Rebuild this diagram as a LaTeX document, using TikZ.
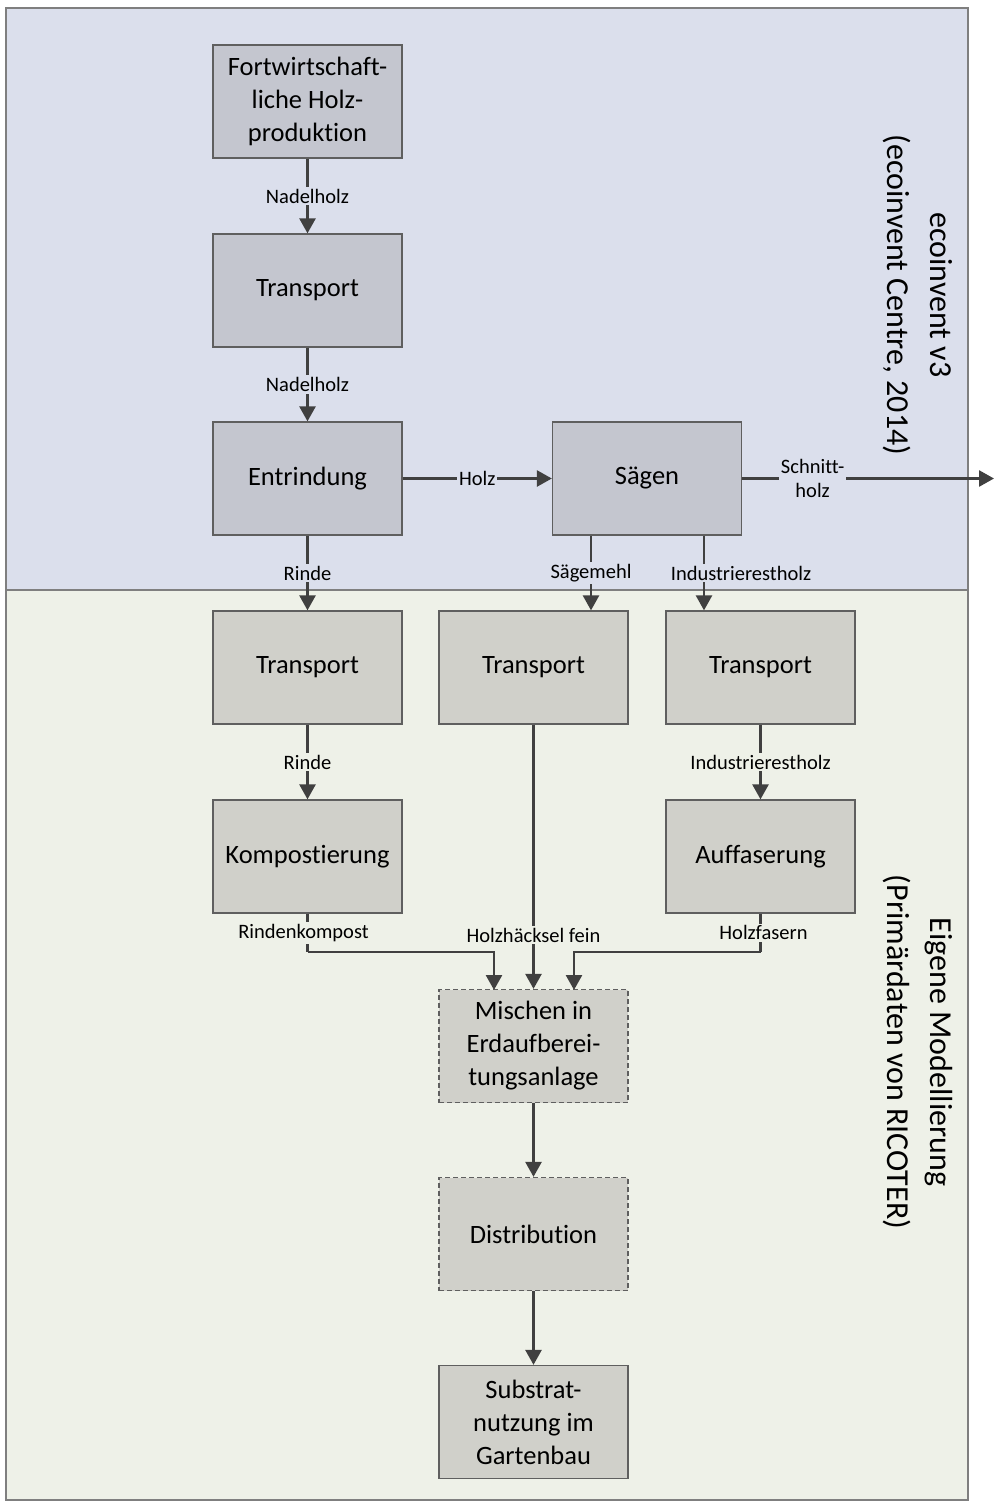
\documentclass[tikz,border=0pt]{standalone}
\usepackage{fontspec}
\setmainfont{Carlito}[Ligatures={NoCommon}]
\usetikzlibrary{arrows.meta}
\definecolor{topbg}{RGB}{219,223,236}
\definecolor{botbg}{RGB}{238,241,232}
\definecolor{topbox}{RGB}{196,198,207}
\definecolor{botbox}{RGB}{208,208,202}
\definecolor{edge}{RGB}{95,95,95}
\definecolor{arrowc}{RGB}{64,64,64}
\tikzset{
  box/.style={draw=edge, line width=1.3pt, minimum width=189pt, minimum height=113pt,
    align=center, inner sep=2pt, font=\fontsize{26.5}{33}\selectfont},
  topb/.style={box, fill=topbox},
  botb/.style={box, fill=botbox},
  dbox/.style={botb, dash pattern=on 5pt off 3pt},
  arr/.style={draw=arrowc, line width=2.6pt, -{Triangle[length=15pt,width=16pt]}},
  plain/.style={draw=arrowc, line width=2.6pt},
  lab/.style={font=\fontsize{20.5}{24}\selectfont, inner sep=2pt, align=center},
  labt/.style={lab, fill=topbg},
  labb/.style={lab, fill=botbg},
  region/.style={draw=edge!80, line width=1.3pt},
  side/.style={rotate=-90, align=center, font=\fontsize{32}{43}\selectfont}
}
\begin{document}
\begin{tikzpicture}[x=1pt,y=-1pt]
\useasboundingbox (0,0) rectangle (995,1504);
\fill[white] (0,0) rectangle (995,1504);
% regions
\path[region, fill=topbg] (6,8) rectangle (968,590);
\path[region, fill=botbg] (6,590) rectangle (968,1500);
\node[side] (ttop) at (918,295) {ecoinvent v3\\(ecoinvent Centre, 2014)};
\node[side] (tbot) at (918,1052) {Eigene Modellierung\\(Primärdaten von RICOTER)};
% boxes
\node[topb] (fort) at (307.5,101.5) {Fortwirtschaft-\\liche Holz-\\produktion};
\node[topb] (tr1) at (307.5,290.5) {Transport};
\node[topb] (entr) at (307.5,478.5) {Entrindung};
\node[topb] (saeg) at (647,478.5) {Sägen};
\node[botb] (tra) at (307.5,667.5) {Transport};
\node[botb] (trb) at (533.5,667.5) {Transport};
\node[botb] (trc) at (760.5,667.5) {Transport};
\node[botb] (komp) at (307.5,856.5) {Kompostierung};
\node[botb] (auff) at (760.5,856.5) {Auffaserung};
\node[dbox] (misch) at (533.5,1046) {Mischen in\\Erdaufberei-\\tungsanlage};
\node[dbox] (distr) at (533.5,1234) {Distribution};
\node[botb] (subst) at (533.5,1422) {Substrat-\\nutzung im\\Gartenbau};
% helper coordinates
\coordinate (out) at (994,478.5);
\coordinate (xs1) at (591,0);
\coordinate (xs2) at (704,0);
\coordinate (kb) at (307.5,952);
\coordinate (ab) at (760.5,952);
\coordinate (m1) at (494,990);
\coordinate (m3) at (574,990);
% connectors
\draw[arr] (fort) -- node[labt]{Nadelholz} (tr1);
\draw[arr] (tr1) -- node[labt]{Nadelholz} (entr);
\draw[arr] (entr) -- node[labt]{Holz} (saeg);
\draw[arr] (saeg) -- node[labt, pos=0.28]{Schnitt-\\holz} (out);
\draw[arr] (entr) -- node[labt]{Rinde} (tra);
\draw[arr] (saeg.south -| xs1) -- node[labt]{Sägemehl} (trb.north -| xs1);
\draw[arr] (saeg.south -| xs2) -- node[labt, xshift=37pt]{Industrierestholz} (trc.north -| xs2);
\draw[arr] (tra) -- node[labb]{Rinde} (komp);
\draw[arr] (trc) -- node[labb]{Industrierestholz} (auff);
\draw[plain] (komp.south) -- node[labb, xshift=-4pt]{Rindenkompost} (kb);
\draw[arr] (kb) -| (m1);
\draw[plain] (auff.south) -- node[labb, xshift=3pt]{Holzfasern} (ab);
\draw[arr] (ab) -| (m3);
\draw[arr] (trb) -- node[labb, pos=0.797]{Holzhäcksel fein} (misch);
\draw[arr] (misch) -- (distr);
\draw[arr] (distr) -- (subst);
\end{tikzpicture}
\end{document}
